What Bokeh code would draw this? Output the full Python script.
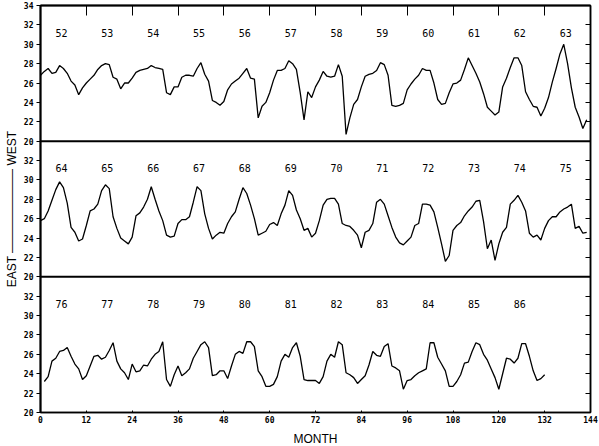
from bokeh.plotting import figure
from bokeh.models import Range1d, LinearAxis, FixedTicker, Span, ColumnDataSource
from bokeh.embed import file_html
from bokeh.resources import INLINE
from bokeh.core.properties import value

# ---------------- data ----------------
month_ticks = [0, 12, 24, 36, 48, 60, 72, 84, 96, 108, 120, 132, 144]
panel_ticks = [20, 22, 24, 26, 28, 30, 32]

years_top = ["52", "53", "54", "55", "56", "57", "58", "59", "60", "61", "62", "63"]
years_mid = ["64", "65", "66", "67", "68", "69", "70", "71", "72", "73", "74", "75"]
years_bot = ["76", "77", "78", "79", "80", "81", "82", "83", "84", "85", "86"]

# 1952-1963 (months 0..143)
top_vals = [
    26.8, 27.2, 27.5, 27.0, 27.1, 27.8, 27.5, 27.0, 26.2, 25.8, 24.8, 25.5,
    26.0, 26.4, 26.8, 27.4, 27.8, 28.0, 27.9, 26.6, 26.4, 25.4, 26.0, 26.0,
    26.5, 27.1, 27.3, 27.4, 27.5, 27.8, 27.6, 27.5, 27.4, 25.0, 24.8, 25.6,
    25.6, 26.6, 26.8, 26.8, 26.7, 27.5, 28.1, 26.9, 26.2, 24.2, 24.0, 23.7,
    24.1, 25.3, 25.9, 26.2, 26.5, 27.0, 27.5, 26.5, 26.4, 22.4, 23.6, 24.0,
    25.0, 26.3, 27.3, 27.3, 27.5, 28.3, 28.0, 27.4, 25.0, 22.2, 25.1, 24.5,
    25.6, 26.3, 27.2, 26.7, 26.6, 26.7, 27.9, 26.7, 20.7, 22.4, 23.8, 24.3,
    25.6, 26.7, 26.9, 27.0, 27.3, 28.1, 27.9, 26.8, 23.7, 23.6, 23.7, 23.9,
    25.3, 25.9, 26.4, 26.8, 27.5, 27.3, 27.3, 26.0, 24.3, 23.8, 23.9, 25.0,
    25.9, 26.0, 26.3, 27.4, 28.6, 27.8, 27.0, 26.1, 24.9, 23.5, 23.1, 22.7,
    23.0, 25.6, 26.5, 27.6, 28.6, 28.6, 27.8, 25.1, 24.3, 23.6, 23.5, 22.6,
    23.4, 24.5, 26.1, 27.5, 29.0, 30.0, 28.0, 25.5, 23.5, 22.5, 21.3, 22.2,
]

# 1964-1975 (months 0..143)
mid_vals = [
    25.8, 26.0, 26.8, 27.9, 29.0, 29.8, 29.2, 27.6, 25.1, 24.6, 23.7, 23.9,
    25.3, 26.8, 27.0, 27.5, 28.9, 29.5, 29.1, 26.2, 25.0, 24.0, 23.7, 23.4,
    24.1, 26.3, 26.6, 27.2, 28.0, 29.3, 28.0, 26.8, 25.8, 24.3, 24.1, 24.2,
    25.5, 25.9, 25.9, 26.2, 27.7, 29.3, 28.9, 26.5, 25.0, 23.9, 24.3, 24.6,
    24.5, 25.5, 26.2, 26.7, 28.0, 29.2, 28.6, 27.4, 26.0, 24.3, 24.5, 24.7,
    25.4, 25.6, 25.3, 26.5, 27.4, 28.9, 28.4, 26.9, 26.0, 24.8, 25.0, 24.1,
    24.5, 25.8, 27.4, 28.0, 28.1, 28.1, 27.5, 25.5, 25.3, 25.2, 24.8, 24.3,
    23.0, 24.6, 24.8, 25.5, 27.7, 28.0, 27.5, 26.3, 25.1, 24.1, 23.5, 23.3,
    23.7, 24.1, 25.3, 25.5, 27.5, 27.5, 27.4, 26.7, 25.1, 23.4, 21.6, 22.2,
    24.8, 25.3, 25.6, 26.3, 26.8, 27.2, 27.8, 27.9, 25.7, 22.9, 23.8, 21.7,
    23.4, 24.6, 25.1, 27.5, 27.9, 28.4, 27.7, 26.8, 24.5, 24.1, 24.3, 23.8,
    25.0, 25.8, 26.2, 26.2, 26.7, 27.0, 27.2, 27.5, 25.0, 25.2, 24.5, 24.6,
]

# 1976-1986 (months 1..132)
bot_vals = [
    23.2, 23.7, 25.3, 25.6, 26.3, 26.4, 26.7, 25.8, 25.0, 24.5, 23.4, 23.8,
    24.8, 25.8, 25.9, 25.5, 25.7, 26.4, 27.2, 25.3, 24.5, 24.1, 23.4, 25.0,
    24.2, 24.3, 24.9, 24.8, 25.5, 26.0, 26.3, 27.3, 23.4, 22.7, 23.9, 24.8,
    23.8, 24.1, 24.5, 25.6, 26.3, 27.0, 27.3, 26.7, 23.8, 23.9, 24.3, 24.3,
    23.5, 24.8, 26.0, 26.3, 26.1, 27.3, 27.3, 26.8, 24.3, 23.7, 22.7, 22.7,
    22.9, 23.7, 25.3, 26.0, 25.7, 26.7, 27.2, 25.8, 23.4, 23.3, 23.3, 23.3,
    23.0, 23.7, 25.3, 26.0, 25.7, 27.3, 27.0, 24.1, 23.9, 23.6, 23.0, 23.4,
    23.8, 24.9, 26.3, 25.9, 25.8, 26.8, 27.1, 24.8, 24.6, 24.3, 22.4, 23.3,
    23.4, 23.8, 24.1, 24.3, 24.5, 27.2, 27.2, 25.7, 25.0, 24.3, 22.7, 22.7,
    23.2, 23.9, 25.1, 25.2, 26.3, 27.2, 27.0, 26.0, 25.4, 24.5, 23.6, 22.4,
    24.0, 25.6, 25.5, 25.1, 25.6, 27.1, 27.1, 25.8, 24.3, 23.3, 23.5, 23.9,
]

top_x = list(range(0, len(top_vals)))
mid_x = list(range(0, len(mid_vals)))
bot_x = list(range(1, len(bot_vals) + 1))

# ---------------- figure ----------------
PANEL = 14  # degrees spanned by each panel (20..34)
p = figure(frame_width=550, frame_height=407, output_backend="svg", toolbar_location=None,
           x_range=Range1d(0, 144), y_range=Range1d(20, 20 + 3 * PANEL),
           min_border_left=40, min_border_right=9, min_border_top=5, min_border_bottom=34)
p.extra_y_ranges = {
    "mid": Range1d(20 - PANEL, 34 + PANEL),
    "top": Range1d(20 - 2 * PANEL, 34),
}
p.grid.visible = False
p.outline_line_color = "black"
p.outline_line_width = 1.5
p.background_fill_color = "white"
p.border_fill_color = "white"

# data lines
p.line(top_x, top_vals, y_range_name="top", line_color="black", line_width=1.3)
p.line(mid_x, mid_vals, y_range_name="mid", line_color="black", line_width=1.3)
p.line(bot_x, bot_vals, line_color="black", line_width=1.3)

# year labels
lab_font = value("DejaVu Sans Mono")
for names, rng in ((years_top, "top"), (years_mid, "mid"), (years_bot, "default")):
    xs = [12 * i + 5.5 for i in range(len(names))]
    src = ColumnDataSource(dict(x=xs, y=[31.2] * len(names), t=names))
    p.text("x", "y", text="t", source=src, y_range_name=rng,
           text_font=lab_font, text_font_size="10px", text_color="black",
           text_align="center", text_baseline="middle")

# panel separators (at the 34/20 joins of the panels)
for yj in (20 + PANEL, 20 + 2 * PANEL):
    p.add_layout(Span(location=yj, dimension="width", line_color="black", line_width=2))

# y tick positions and labels
ytick_pos = []
ytick_lab = {}
for k in range(3):
    for t in panel_ticks:
        v = t + k * PANEL
        ytick_pos.append(v)
        ytick_lab[v] = str(t)
ytick_pos.append(20 + 3 * PANEL)
ytick_lab[20 + 3 * PANEL] = "34"

tick_font = "DejaVu Sans Mono"

yl = p.yaxis[0]
yl.ticker = FixedTicker(ticks=ytick_pos)
yl.major_label_overrides = ytick_lab
yl.major_tick_in = 0
yl.major_tick_out = 4
yl.minor_tick_line_color = None
yl.axis_line_width = 2
yl.major_label_text_font = tick_font
yl.major_label_text_font_size = "8px"
yl.major_label_text_font_style = "bold"
yl.major_label_text_color = "black"
yl.major_label_standoff = 3
yl.axis_label = "EAST \u2014\u2014\u2014\u2014\u2014\u2014\u2014 WEST"
yl.axis_label_text_font = "Liberation Sans"
yl.axis_label_text_font_size = "12px"
yl.axis_label_text_font_style = "normal"
yl.axis_label_text_color = "black"
yl.axis_label_standoff = 2

xl = p.xaxis[0]
xl.ticker = FixedTicker(ticks=month_ticks)
xl.major_tick_in = 2
xl.major_tick_out = 0
xl.minor_tick_line_color = None
xl.axis_line_width = 1.5
xl.major_label_text_font = tick_font
xl.major_label_text_font_size = "8px"
xl.major_label_text_font_style = "bold"
xl.major_label_text_color = "black"
xl.major_label_standoff = 3
xl.axis_label = "MONTH"
xl.axis_label_text_font = "Liberation Sans"
xl.axis_label_text_font_size = "12px"
xl.axis_label_text_font_style = "normal"
xl.axis_label_text_color = "black"
xl.axis_label_standoff = 6

# right axis: inward ticks only
ra = LinearAxis(ticker=FixedTicker(ticks=ytick_pos), major_tick_in=5, major_tick_out=0,
                minor_tick_line_color=None,
                major_label_overrides={v: "" for v in ytick_pos},
                major_label_standoff=0, axis_line_width=1.5)
p.add_layout(ra, "right")

# top axis: long inward ticks on the year boundaries
ta = LinearAxis(ticker=FixedTicker(ticks=month_ticks[1:-1]), major_tick_in=10, major_tick_out=0,
                minor_tick_line_color=None,
                major_label_overrides={v: "" for v in month_ticks[1:-1]},
                major_label_standoff=0, axis_line_width=2)
p.add_layout(ta, "above")

open("out.html", "w").write(file_html(p, INLINE))
